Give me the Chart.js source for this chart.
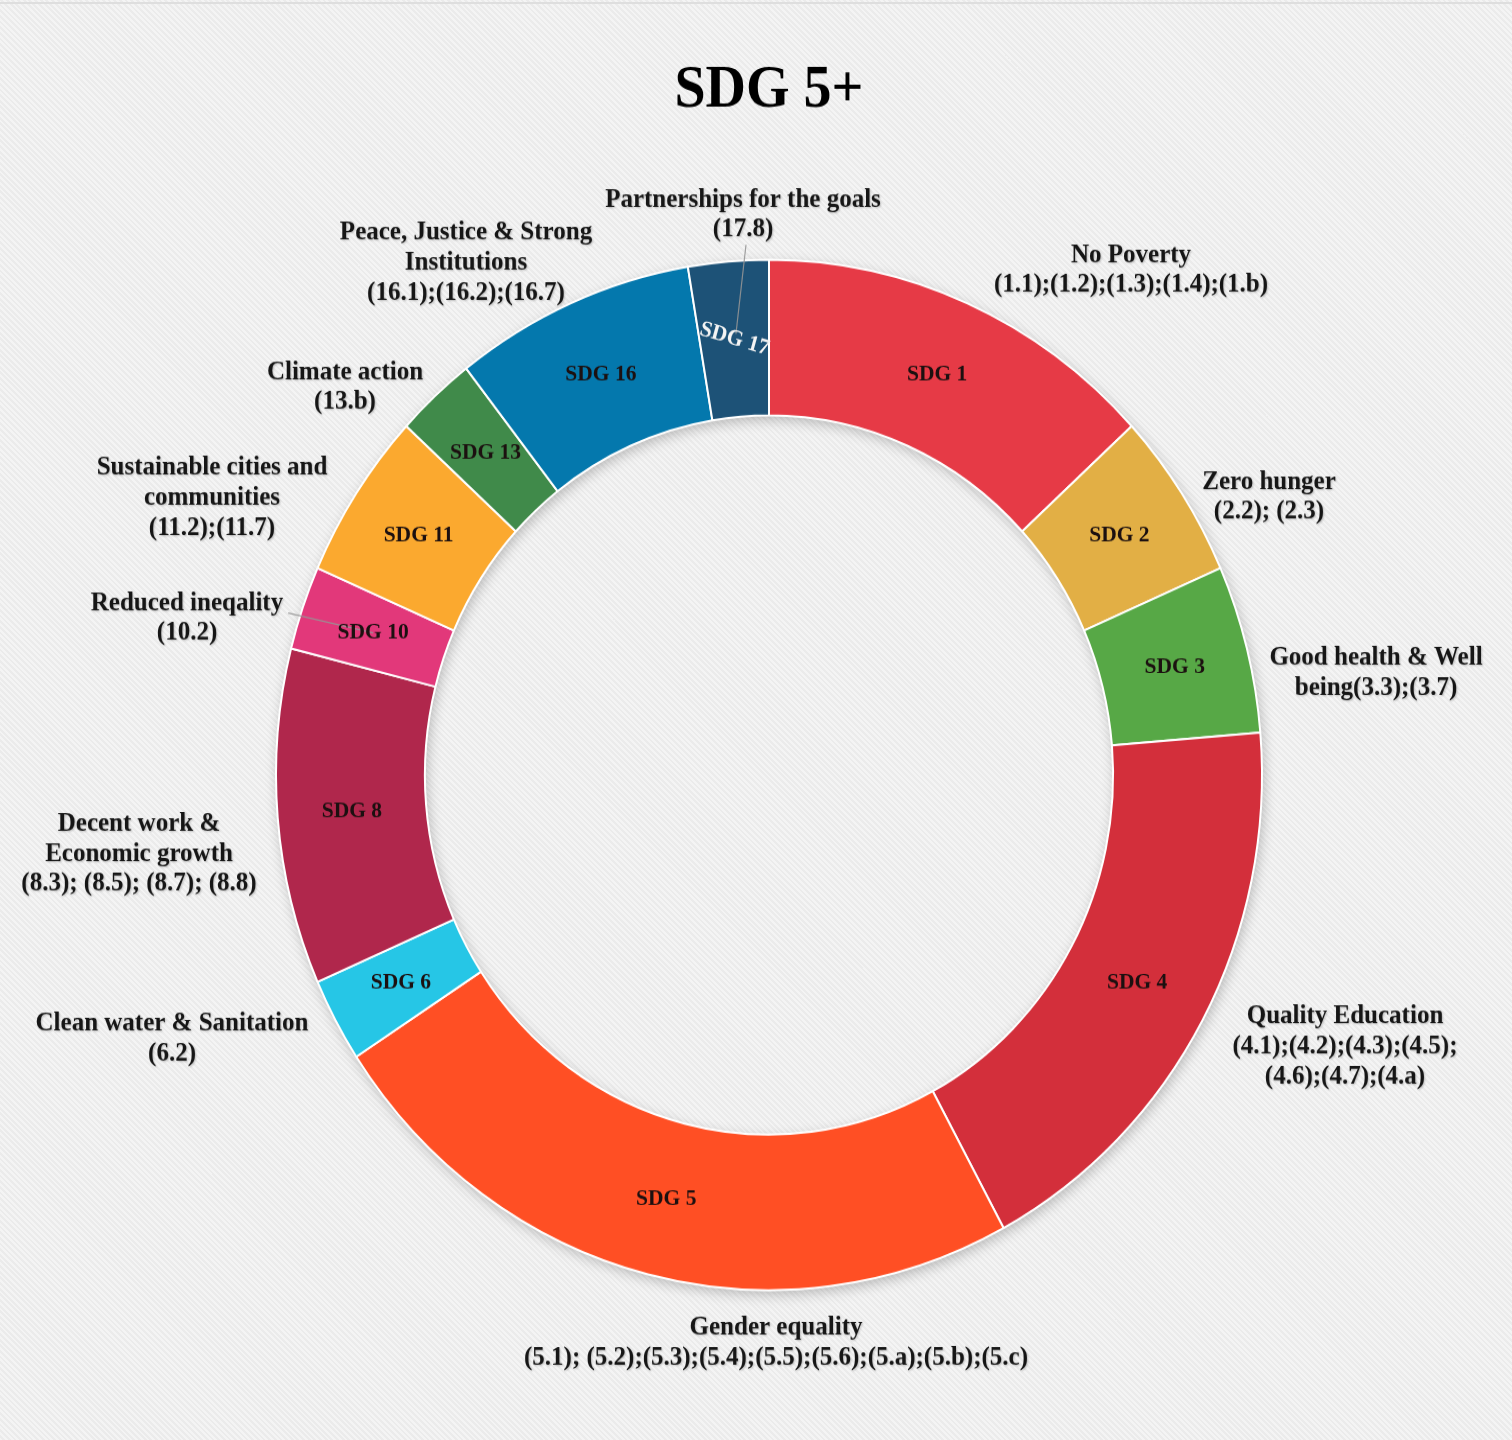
<!DOCTYPE html>
<html>
<head>
<meta charset="utf-8">
<title>SDG 5+</title>
<script src="https://cdn.jsdelivr.net/npm/chart.js@4.4.1/dist/chart.umd.min.js"></script>
<style>
    html, body {
        margin: 0;
        padding: 0;
    }
    body {
        width: 1512px;
        height: 1440px;
        overflow: hidden;
        background-color: #f1f1f1;
        background-image: repeating-linear-gradient(45deg, #f4f4f4 0px, #f4f4f4 2px, #ebebeb 2px, #ebebeb 4px);
    }
    #wrap {
        position: relative;
        width: 1512px;
        height: 1440px;
    }
    #wrap::before {
        content: '';
        position: absolute;
        left: 0;
        right: 0;
        top: 2px;
        height: 2px;
        background: #dedede;
    }
    #sdgChart {
        position: absolute;
        left: 0;
        top: 0;
    }
</style>
</head>
<body>
<div id="wrap">
    <!-- the source picture is slightly stretched vertically, so the canvas is too -->
    <canvas id="sdgChart" width="1512" height="1378" style="width:1512px;height:1440px"></canvas>
</div>

<script>
// ==========================================
// DATA
// ==========================================

const goalCodes = ['SDG 1', 'SDG 2', 'SDG 3', 'SDG 4', 'SDG 5', 'SDG 6',
                   'SDG 8', 'SDG 10', 'SDG 11', 'SDG 13', 'SDG 16', 'SDG 17'];

// number of targets linked to each goal
const targetCounts = [5, 2, 2, 7, 9, 1, 4, 1, 2, 1, 3, 1];

const goalTitles = [
    ['No Poverty', '(1.1);(1.2);(1.3);(1.4);(1.b)'],
    ['Zero hunger', '(2.2); (2.3)'],
    ['Good health & Well', 'being(3.3);(3.7)'],
    ['Quality Education', '(4.1);(4.2);(4.3);(4.5);', '(4.6);(4.7);(4.a)'],
    ['Gender equality', '(5.1); (5.2);(5.3);(5.4);(5.5);(5.6);(5.a);(5.b);(5.c)'],
    ['Clean water & Sanitation', '(6.2)'],
    ['Decent work &', 'Economic growth', '(8.3); (8.5); (8.7); (8.8)'],
    ['Reduced ineqality', '(10.2)'],
    ['Sustainable cities and', 'communities', '(11.2);(11.7)'],
    ['Climate action', '(13.b)'],
    ['Peace, Justice & Strong', 'Institutions', '(16.1);(16.2);(16.7)'],
    ['Partnerships for the goals', '(17.8)']
];

const goalColors = ['#E63A46', '#E2AF45', '#57A846', '#D32F3B', '#FF4F24', '#26C6E6',
                    '#B0274C', '#E2387A', '#FBA92F', '#408A4A', '#0478AD', '#1D5277'];

// ==========================================
// LABEL LAYOUT (offsets from the ring centre, for a ring of radius 493)
// ==========================================

const refRadius = 493;
const outerLabelOffsets = [
    [362, -483], [500, -266], [607, -97.6], [576, 260], [7, 543.5], [-597, 252.6],
    [-630, 75.6], [-582, -150], [-557, -265], [-424, -371], [-303, -490], [-26, -536]
];
const leaderLines = { 7: 'right', 11: 'bottom' };
const innerLabelRotation = { 11: 16 };
const innerLabelLight = { 11: true };

const LABEL_FONT = 'bold 25px "Liberation Serif", "Times New Roman", serif';
const INNER_FONT = 'bold 21.5px "Liberation Serif", "Times New Roman", serif';
const LINE_H = 28.7;

// soft shadow behind the ring
const ringShadow = {
    id: 'ringShadow',
    beforeDatasetsDraw(chart) {
        const arc = chart.getDatasetMeta(0).data[0];
        if (!arc) return;
        const ctx = chart.ctx;
        ctx.save();
        ctx.shadowColor = 'rgba(0, 0, 0, 0.28)';
        ctx.shadowBlur = 14;
        ctx.shadowOffsetX = 2;
        ctx.shadowOffsetY = 4;
        ctx.fillStyle = '#cfcfcf';
        ctx.beginPath();
        ctx.arc(arc.x, arc.y, arc.outerRadius - 1, 0, Math.PI * 2);
        ctx.arc(arc.x, arc.y, arc.innerRadius + 1, 0, Math.PI * 2, true);
        ctx.fill('evenodd');
        ctx.restore();
    }
};

function blockHeight(lines) {
    return lines.length * LINE_H;
}

function drawBlock(ctx, lines, cx, cy) {
    const top = cy - blockHeight(lines) / 2;
    lines.forEach((line, i) => {
        ctx.fillText(line, cx, top + LINE_H * i + LINE_H / 2);
    });
}

const sdgLabels = {
    id: 'sdgLabels',
    afterDatasetsDraw(chart) {
        const meta = chart.getDatasetMeta(0);
        const ctx = chart.ctx;
        if (!meta.data.length) return;
        const cx = meta.data[0].x;
        const cy = meta.data[0].y;
        const k = meta.data[0].outerRadius / refRadius;

        ctx.save();
        ctx.textAlign = 'center';
        ctx.textBaseline = 'middle';

        // outside titles
        ctx.font = LABEL_FONT;
        ctx.fillStyle = '#161616';
        ctx.shadowColor = 'rgba(0, 0, 0, 0.22)';
        ctx.shadowBlur = 2;
        ctx.shadowOffsetX = 1;
        ctx.shadowOffsetY = 1;
        const anchors = [];
        goalTitles.forEach((lines, i) => {
            const lx = cx + outerLabelOffsets[i][0] * k;
            const ly = cy + outerLabelOffsets[i][1] * k;
            drawBlock(ctx, lines, lx, ly);
            anchors.push({ x: lx, y: ly, lines: lines });
        });
        ctx.shadowColor = 'transparent';

        // leader lines
        ctx.strokeStyle = 'rgba(150, 150, 150, 0.9)';
        ctx.lineWidth = 1.2;
        Object.keys(leaderLines).forEach(key => {
            const i = Number(key);
            const a = anchors[i];
            const p = meta.data[i].tooltipPosition();
            let sx, sy, ex, ey;
            if (leaderLines[key] === 'right') {
                const w = Math.max(...a.lines.map(l => ctx.measureText(l).width));
                sx = a.x + w / 2 + 5;
                sy = a.y - 5;
                ex = p.x;
                ey = p.y;
            } else {
                sx = a.x + 3;
                sy = a.y + blockHeight(a.lines) / 2;
                ex = p.x + 1.5;
                ey = p.y - 5;
            }
            ctx.beginPath();
            ctx.moveTo(sx, sy);
            ctx.lineTo(ex, ey);
            ctx.stroke();
        });

        // labels inside the ring
        ctx.font = INNER_FONT;
        meta.data.forEach((arc, i) => {
            const p = arc.tooltipPosition();
            ctx.save();
            ctx.translate(p.x, p.y);
            if (innerLabelRotation[i]) ctx.rotate(innerLabelRotation[i] * Math.PI / 180);
            ctx.fillStyle = innerLabelLight[i] ? '#f4f4f4' : '#1c1010';
            ctx.fillText(goalCodes[i], 0, 0);
            ctx.restore();
        });

        ctx.restore();
    }
};

function renderSdgChart() {
    const canvas = document.getElementById('sdgChart');
    if (!canvas) return;
    const ctx = canvas.getContext('2d');

    window.sdgChartInstance = new Chart(ctx, {
        type: 'doughnut',
        data: {
            labels: goalCodes,
            datasets: [{
                data: targetCounts,
                backgroundColor: goalColors,
                borderColor: '#ffffff',
                borderWidth: 2,
                hoverOffset: 0
            }]
        },
        options: {
            responsive: false,
            animation: false,
            cutout: '69.8%',
            layout: {
                padding: { left: 275, right: 249, top: 0, bottom: 142.4 }
            },
            plugins: {
                legend: { display: false },
                tooltip: { enabled: true },
                title: {
                    display: true,
                    text: 'SDG 5+',
                    color: '#000000',
                    font: { family: '"Liberation Serif", "Times New Roman", serif', size: 56, weight: 'bold', lineHeight: 1.2 },
                    padding: { top: 54.4, bottom: 126 }
                }
            }
        },
        plugins: [ringShadow, sdgLabels]
    });
}

renderSdgChart();
</script>
</body>
</html>
